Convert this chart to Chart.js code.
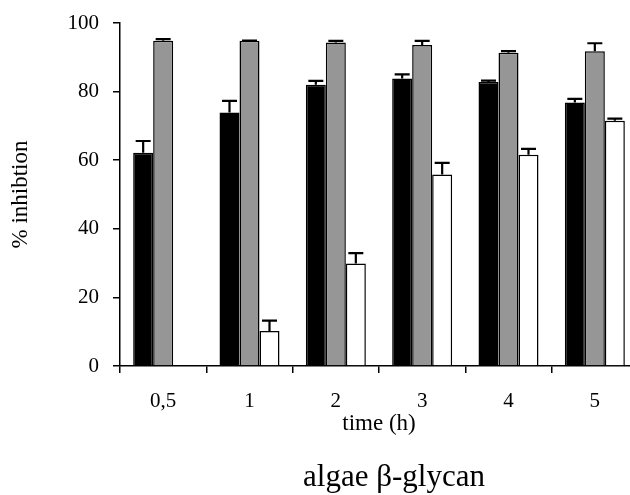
<!DOCTYPE html>
<html>
<head>
<meta charset="utf-8">
<script src="https://cdn.jsdelivr.net/npm/chart.js@4.4.0/dist/chart.umd.min.js"></script>
<style>
html,body{margin:0;padding:0;background:#fff;overflow:hidden;width:630px;height:495px;}
canvas{display:block;}
</style>
</head>
<body>
<canvas id="c" width="645" height="495" style="width:645px;height:495px"></canvas>
<script>
const categories = ["0,5", "1", "2", "3", "4", "5"];
const blackValues = [62.2, 73.9, 82.0, 83.8, 82.8, 76.8];
const blackErrors = [3.4, 3.4, 1.1, 1.2, 0.4, 1.1];
const grayValues = [94.8, 94.8, 94.3, 93.6, 91.3, 91.8];
const grayErrors = [0.5, 0.1, 0.5, 1.2, 0.5, 2.3];
const whiteValues = [null, 10.2, 29.9, 55.8, 61.6, 71.5];
const whiteErrors = [0, 3.0, 3.0, 3.4, 1.7, 0.6];
const yTicks = [0, 20, 40, 60, 80, 100];
const xTitle = "time (h)";
const yTitle = "% inhibtion";
const bottomTitle = "algae β-glycan";

const FONT = "'Liberation Serif', 'DejaVu Serif', serif";

const errorPlugin = {
  id: 'errs',
  afterDatasetsDraw(chart) {
    const ctx = chart.ctx;
    const y = chart.scales.y;
    ctx.save();
    ctx.strokeStyle = '#000';
    ctx.lineWidth = 2.2;
    chart.data.datasets.forEach((ds, di) => {
      const meta = chart.getDatasetMeta(di);
      meta.data.forEach((bar, i) => {
        const v = ds.data[i];
        if (v === null || v === undefined) return;
        const e = ds.errors[i];
        const top = y.getPixelForValue(v + e);
        const base = y.getPixelForValue(v);
        ctx.beginPath();
        ctx.moveTo(bar.x, base);
        ctx.lineTo(bar.x, top);
        ctx.moveTo(bar.x - 7.5, top);
        ctx.lineTo(bar.x + 7.5, top);
        ctx.stroke();
      });
    });
    ctx.restore();
  }
};

const titlePlugin = {
  id: 'titles',
  afterDraw(chart) {
    const ctx = chart.ctx;
    const a = chart.chartArea;
    ctx.save();
    ctx.fillStyle = '#000';
    ctx.textAlign = 'center';
    ctx.textBaseline = 'alphabetic';
    const cx = (a.left + a.right) / 2;
    ctx.font = "23px " + FONT;
    ctx.fillText(xTitle, cx, 430);
    ctx.font = "31px " + FONT;
    ctx.fillText(bottomTitle, cx + 15, 486);
    ctx.textBaseline = 'middle';
    ctx.translate(21, (a.top + a.bottom) / 2);
    ctx.rotate(-Math.PI / 2);
    ctx.font = "23px " + FONT;
    ctx.fillText(yTitle, 0, 0);
    ctx.restore();
  }
};

new Chart(document.getElementById('c'), {
  type: 'bar',
  data: {
    labels: categories,
    datasets: [
      { data: blackValues, errors: blackErrors, backgroundColor: '#000000', borderColor: '#000', borderWidth: 1.5 },
      { data: grayValues, errors: grayErrors, backgroundColor: '#969696', borderColor: '#000', borderWidth: 1.5 },
      { data: whiteValues, errors: whiteErrors, backgroundColor: '#ffffff', borderColor: '#000', borderWidth: 1.5 }
    ]
  },
  options: {
    responsive: false,
    animation: false,
    devicePixelRatio: 1,
    layout: { padding: { top: 23, right: 7, left: 0, bottom: 0 } },
    plugins: { legend: { display: false }, tooltip: { enabled: false } },
    datasets: { bar: { categoryPercentage: 0.695, barPercentage: 1.0 } },
    scales: {
      x: {
        grid: { display: true, drawOnChartArea: false, drawTicks: true, tickLength: 7, color: '#000', lineWidth: 1.5, offset: true },
        border: { display: true, color: '#000', width: 1.5 },
        ticks: { color: '#000', font: { family: FONT, size: 21 }, padding: 16, maxRotation: 0 },
        afterFit(s) { s.height = 129; s.paddingLeft = 0; s.paddingRight = 0; }
      },
      y: {
        min: 0, max: 100,
        afterBuildTicks(s) { s.ticks = yTicks.map(v => ({ value: v })); },
        grid: { display: true, drawOnChartArea: false, drawTicks: true, tickLength: 7, color: '#000', lineWidth: 1.5 },
        border: { display: true, color: '#000', width: 1.5 },
        ticks: { color: '#000', font: { family: FONT, size: 21 }, padding: 14 },
        afterFit(s) { s.width = 120; s.paddingTop = 0; s.paddingBottom = 0; }
      }
    }
  },
  plugins: [errorPlugin, titlePlugin]
});
</script>
</body>
</html>
